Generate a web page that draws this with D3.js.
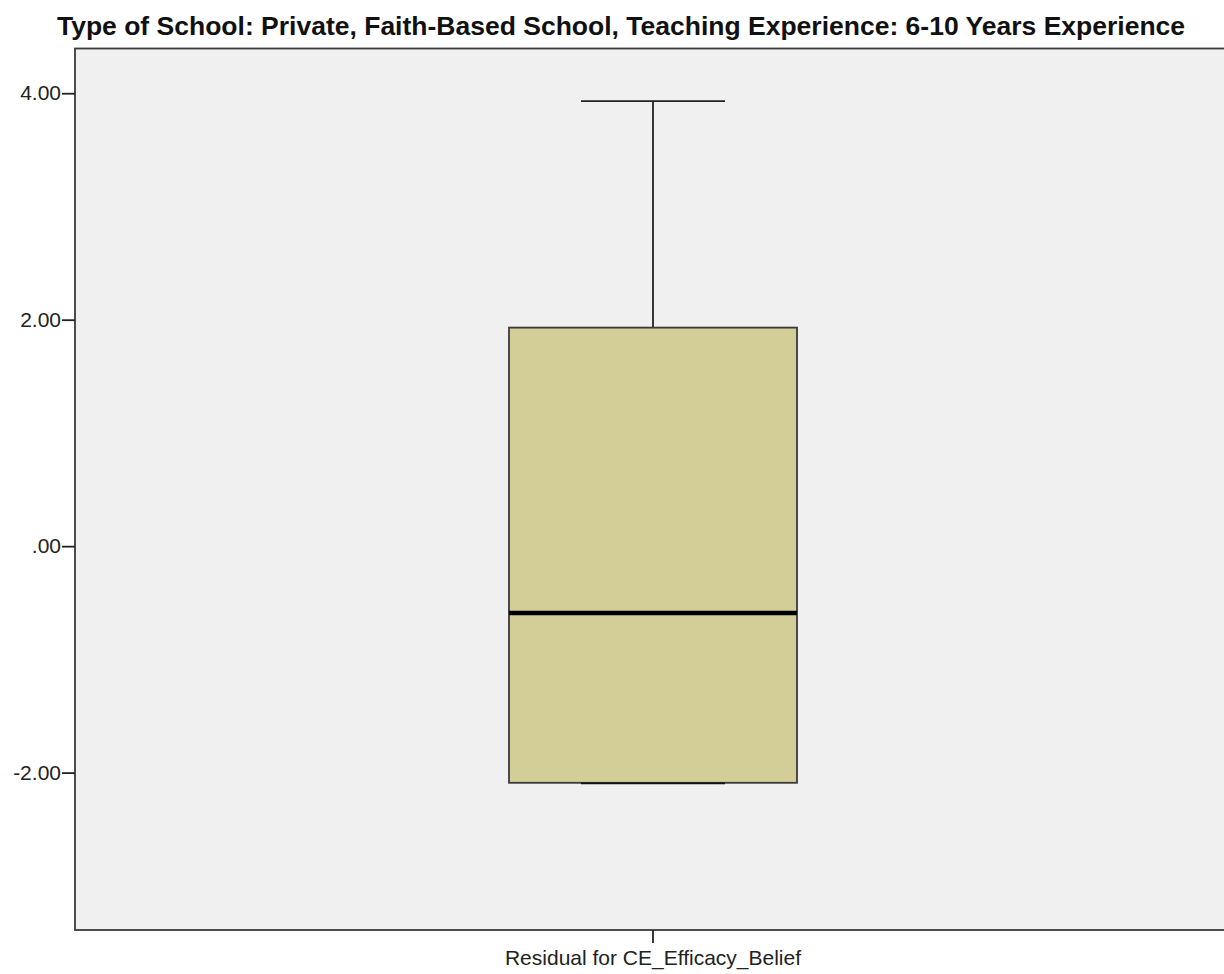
<!DOCTYPE html>
<html>
<head>
<meta charset="utf-8">
<script src="https://cdn.jsdelivr.net/npm/d3@7"></script>
<style>
  html, body { margin: 0; padding: 0; background: #ffffff; }
  svg { display: block; }
</style>
</head>
<body>
<svg id="chart" width="1224" height="974"></svg>
<script>
// Boxplot summary for one variable
const categories = ["Residual for CE_Efficacy_Belief"];
const whiskerLow = [-2.09];
const quartile1 = [-2.09];
const medians = [-0.59];
const quartile3 = [1.93];
const whiskerHigh = [3.93];
const yTicks = [4, 2, 0, -2];
const titleText = "Type of School: Private, Faith-Based School, Teaching Experience: 6-10 Years Experience";

const svg = d3.select("#chart");
const W = 1224, H = 974;
const FONT = "Liberation Sans, Arial, sans-serif";
const margin = { left: 75, top: 48.5, right: -40, bottom: 44 };
const plotW = W - margin.left - margin.right;
const plotH = H - margin.top - margin.bottom;

const y = d3.scaleLinear().domain([-3.39, 4.395]).range([margin.top + plotH, margin.top]);
const x = d3.scaleBand().domain(categories).range([margin.left, margin.left + 1156]).paddingInner(0).paddingOuter(0.25);

// plot background
svg.append("rect")
  .attr("x", margin.left).attr("y", margin.top)
  .attr("width", plotW).attr("height", plotH)
  .attr("fill", "#f0f0f0")
  .attr("stroke", "#3a3a3a").attr("stroke-width", 1.8);

// title
svg.append("text")
  .attr("x", 621).attr("y", 35)
  .attr("text-anchor", "middle")
  .attr("font-family", FONT)
  .attr("font-weight", "bold")
  .attr("font-size", 26.5)
  .attr("fill", "#111")
  .text(titleText);

// SPSS-style labels: "4.00", ".00", "-2.00"
const fmt = v => {
  const s = d3.format(".2f")(Math.abs(v));
  return (v < 0 ? "-" : "") + s.replace(/^0\./, ".");
};

// y axis
const yAxis = d3.axisLeft(y).tickValues(yTicks).tickSize(13).tickPadding(1).tickFormat(fmt);
const gy = svg.append("g").attr("transform", `translate(${margin.left},0)`).call(yAxis);
gy.select(".domain").remove();
gy.selectAll(".tick line").attr("stroke", "#222").attr("stroke-width", 1.8);
gy.selectAll(".tick text")
  .attr("font-family", FONT)
  .attr("font-size", 21).attr("fill", "#222");

// x axis
const xAxis = d3.axisBottom(x).tickSize(13).tickPadding(6);
const gx = svg.append("g").attr("transform", `translate(0,${margin.top + plotH})`).call(xAxis);
gx.select(".domain").remove();
gx.selectAll(".tick line").attr("stroke", "#222").attr("stroke-width", 1.8);
gx.selectAll(".tick text")
  .attr("font-family", FONT)
  .attr("font-size", 21).attr("fill", "#222")
  .attr("y", 35).attr("dy", 0);

// boxes
const data = categories.map((c, i) => ({
  c, lo: whiskerLow[i], q1: quartile1[i], med: medians[i], q3: quartile3[i], hi: whiskerHigh[i]
}));
const boxW = 288;
const g = svg.append("g");
data.forEach(d => {
  const cx = x(d.c) + x.bandwidth() / 2;
  // upper whisker
  g.append("line").attr("x1", cx).attr("x2", cx).attr("y1", y(d.q3)).attr("y2", y(d.hi))
    .attr("stroke", "#222").attr("stroke-width", 1.8);
  g.append("line").attr("x1", cx - boxW / 4).attr("x2", cx + boxW / 4).attr("y1", y(d.hi)).attr("y2", y(d.hi))
    .attr("stroke", "#222").attr("stroke-width", 1.8);
  // lower whisker
  g.append("line").attr("x1", cx).attr("x2", cx).attr("y1", y(d.q1)).attr("y2", y(d.lo))
    .attr("stroke", "#222").attr("stroke-width", 1.8);
  // box
  g.append("rect").attr("x", cx - boxW / 2).attr("y", y(d.q3))
    .attr("width", boxW).attr("height", y(d.q1) - y(d.q3))
    .attr("fill", "#d3cd97").attr("stroke", "#3a3a3a").attr("stroke-width", 1.8);
  g.append("line").attr("x1", cx - boxW / 4).attr("x2", cx + boxW / 4).attr("y1", y(d.lo) + 0.5).attr("y2", y(d.lo) + 0.5)
    .attr("stroke", "#111").attr("stroke-width", 1.8);
  // median
  g.append("line").attr("x1", cx - boxW / 2).attr("x2", cx + boxW / 2).attr("y1", y(d.med)).attr("y2", y(d.med))
    .attr("stroke", "#000").attr("stroke-width", 4.5);
});
</script>
</body>
</html>
